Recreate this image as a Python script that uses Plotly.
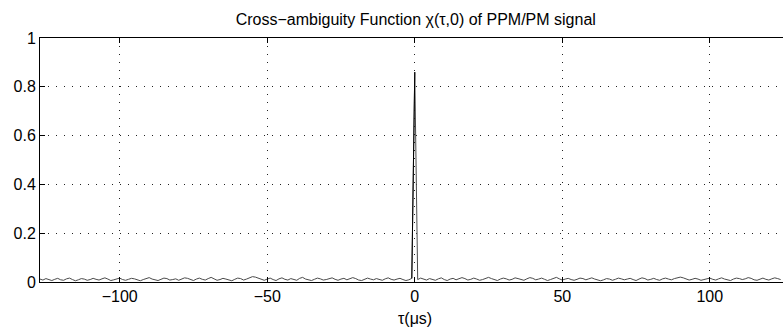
import plotly.graph_objects as go

# tau in microseconds, one sample per microsecond
tau_left_start = -127
noise_left = [12,8,14,10,6,11,15,9,7,13,16,10,5,9,14,12,7,10,15,11,
              8,13,17,12,6,9,14,16,10,7,11,15,13,8,5,10,14,18,12,9,
              6,11,16,14,8,10,13,7,12,17,15,9,6,12,16,11,8,14,19,13,
              7,10,15,12,9,5,11,16,14,8,12,18,22,20,15,9,7,12,16,10,
              6,13,17,11,8,14,10,7,15,19,12,9,6,11,16,13,8,10,14,17,
              11,7,12,15,9,13,18,14,8,6,11,16,12,9,14,10,7,13,17,11,
              8,12,15,10,6,9,15]
peak_value = 860
noise_right = [10,16,12,8,14,11,7,13,17,10,6,12,15,9,13,18,14,8,11,16,
               12,7,10,15,19,14,9,6,12,16,13,8,11,17,14,10,7,13,18,15,
               9,12,16,11,6,10,14,19,13,8,12,15,10,7,11,16,14,9,13,17,
               12,8,5,9,14,12,7,11,16,13,9,12,15,10,6,12,17,14,8,11,
               15,10,7,13,16,12,9,14,18,20,17,13,8,11,15,12,7,10,14,16,
               11,8,13,17,12,9,6,12,16,14,10,13,18,15,9,7,12,16,11,8,
               13,17,14,10]

values_milli = noise_left + [peak_value] + noise_right
tau = list(range(tau_left_start, tau_left_start + len(values_milli)))
chi = [v / 1000 for v in values_milli]

x_ticks = [-100, -50, 0, 50, 100]
y_ticks = [0, 0.2, 0.4, 0.6, 0.8, 1]
y_tick_text = ["0", "0.2", "0.4", "0.6", "0.8", "1"]

fig = go.Figure()
fig.add_trace(go.Scatter(x=tau, y=chi, mode="lines",
                         line=dict(color="#4a4a4a", width=1), showlegend=False))
# darker rendering of the main lobe
i0 = tau.index(0)
fig.add_trace(go.Scatter(x=tau[i0-1:i0+1], y=chi[i0-1:i0+1], mode="lines",
                         line=dict(color="#000000", width=1), showlegend=False))

font = "Liberation Sans, Arial, sans-serif"
grid_dash = "1px,7px"
fig.update_layout(
    width=783, height=329,
    margin=dict(l=40, r=0, t=38, b=47),
    paper_bgcolor="white", plot_bgcolor="white",
    font=dict(family=font, size=16, color="black"),
    title=dict(text="Cross\u2212ambiguity Function \u03c7(\u03c4,0) of PPM/PM signal",
               x=0.531, xanchor="center", y=1 - 19/329, yanchor="middle",
               font=dict(size=16, color="black")),
    xaxis=dict(range=[-127, 124.8], tickvals=x_ticks, ticks="inside", ticklen=5,
               tickcolor="black", showline=True, linecolor="black", linewidth=1,
               mirror="ticks", showgrid=True, gridcolor="#222", griddash=grid_dash,
               gridwidth=1, zeroline=False, tickfont=dict(size=16)),
    yaxis=dict(range=[0, 1], tickvals=y_ticks, ticktext=y_tick_text, ticks="inside",
               ticklen=5, tickcolor="black", showline=True, linecolor="black",
               linewidth=1, showgrid=True, gridcolor="#222", griddash=grid_dash,
               gridwidth=1, zeroline=False, tickfont=dict(size=16)),
    annotations=[dict(text="\u03c4(\u03bcs)", x=0, xref="x", y=0, yref="paper",
                      yanchor="top", yshift=-26, showarrow=False,
                      font=dict(size=16, color="black"))],
)

fig.write_html("out.html")
